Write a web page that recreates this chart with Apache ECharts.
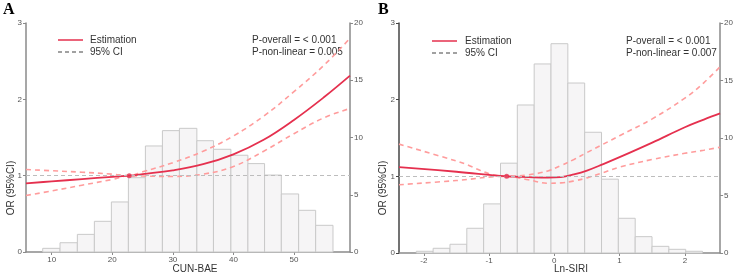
<!DOCTYPE html>
<html>
<head>
<meta charset="utf-8">
<script src="https://cdn.jsdelivr.net/npm/echarts@6/dist/echarts.min.js"></script>
<style>
html,body{margin:0;padding:0;background:#fff;}
#c{width:736px;height:275px;}
</style>
</head>
<body>
<div id="c"></div>
<script>
// ---------- Data: panel A (CUN-BAE) ----------
const edgesA = [8.51, 11.37, 14.23, 17.04, 19.85, 22.66, 25.47, 28.28, 31.09, 33.97, 36.71, 39.59, 42.40, 45.15, 47.92, 50.78, 53.59, 56.45];
const countsA = [0.32, 0.81, 1.54, 2.68, 4.37, 6.49, 9.26, 10.6, 10.8, 9.72, 8.97, 8.45, 7.72, 6.72, 5.07, 3.64, 2.33];
const xA   = [5.75, 10, 15, 20, 22.8, 25, 30, 35, 40, 45, 50, 55, 59.26];
const estA = [0.90, 0.925, 0.955, 0.985, 1.0, 1.02, 1.07, 1.15, 1.28, 1.47, 1.73, 2.03, 2.31];
const upA  = [1.08, 1.065, 1.045, 1.02, 1.0, 1.05, 1.17, 1.32, 1.52, 1.78, 2.10, 2.45, 2.80];
const loA  = [0.74, 0.80, 0.875, 0.95, 1.0, 0.995, 0.99, 1.02, 1.12, 1.32, 1.55, 1.76, 1.88];
const refA = [22.8, 1.0];
const xTicksA = [10, 20, 30, 40, 50];

// ---------- Data: panel B (Ln-SIRI) ----------
const edgesB = [-2.115, -1.857, -1.599, -1.341, -1.083, -0.825, -0.567, -0.309, -0.051, 0.207, 0.465, 0.723, 0.981, 1.239, 1.497, 1.755, 2.013, 2.271];
const countsB = [0.15, 0.41, 0.76, 2.15, 4.27, 7.81, 12.87, 16.44, 18.2, 14.78, 10.5, 6.42, 3.02, 1.42, 0.58, 0.32, 0.15];
const xB   = [-2.38, -1.5, -0.73, -0.4, -0.1, 0.1, 0.3, 0.5, 0.75, 1.0, 1.5, 2.0, 2.29, 2.54];
const estB = [1.12, 1.06, 1.0, 0.99, 0.984, 0.99, 1.025, 1.075, 1.16, 1.25, 1.44, 1.64, 1.74, 1.82];
const upB  = [1.42, 1.20, 1.0, 1.02, 1.07, 1.14, 1.22, 1.31, 1.42, 1.53, 1.75, 2.02, 2.22, 2.43];
const loB  = [0.89, 0.945, 1.0, 0.955, 0.91, 0.915, 0.94, 0.98, 1.05, 1.12, 1.22, 1.30, 1.34, 1.38];
const refB = [-0.73, 1.0];
const xTicksB = [-2, -1, 0, 1, 2];

// ---------- helpers ----------
const zip = (xs, ys) => xs.map((x, i) => [x, ys[i]]);
const bins = (edges, counts) => counts.map((c, i) => [edges[i], edges[i + 1], c]);

const FONT = 'Liberation Sans, Arial, sans-serif';
const RED = '#e5304e';
const CI = '#ff9c9c';

function histRender(params, api) {
  const p0 = api.coord([api.value(0), api.value(2)]);
  const p1 = api.coord([api.value(1), 0]);
  return {
    type: 'rect',
    shape: { x: p0[0], y: p0[1], width: p1[0] - p0[0], height: p1[1] - p0[1] },
    style: { fill: '#f6f5f6', stroke: '#c9c9c9', lineWidth: 1 }
  };
}

function xAxisDef(gi, min, max, ticks) {
  return {
    type: 'value', gridIndex: gi, min: min, max: max,
    axisLine: { show: true, onZero: false, lineStyle: { color: '#8a8a8a', width: 1.5 } },
    axisTick: { show: true, length: 3, customValues: ticks, lineStyle: { color: '#8a8a8a' } },
    axisLabel: { customValues: ticks, fontSize: 8, color: '#555', margin: 4, fontFamily: FONT },
    splitLine: { show: false }
  };
}
function yLeftDef(gi, color) {
  return {
    type: 'value', gridIndex: gi, min: 0, max: 3, interval: 1, position: 'left',
    axisLine: { show: true, onZero: false, lineStyle: { color: color, width: 1.5 } },
    axisTick: { show: true, length: 3, lineStyle: { color: color } },
    axisLabel: { fontSize: 8, color: '#555', margin: 4, fontFamily: FONT },
    splitLine: { show: false }
  };
}
function yRightDef(gi) {
  return {
    type: 'value', gridIndex: gi, min: 0, max: 20, interval: 5, position: 'right',
    axisLine: { show: true, onZero: false, lineStyle: { color: '#8a8a8a', width: 1.5 } },
    axisTick: { show: true, length: 3, lineStyle: { color: '#8a8a8a' } },
    axisLabel: { fontSize: 8, color: '#555', margin: 4, fontFamily: FONT },
    splitLine: { show: false }
  };
}

function lineS(xi, yl, data, style, z) {
  return { type: 'line', xAxisIndex: xi, yAxisIndex: yl, data: data, smooth: 0.4,
    showSymbol: false, lineStyle: style, z: z };
}

function panelSeries(xi, yl, yr, edges, counts, xs, est, up, lo, ref) {
  const estS = lineS(xi, yl, zip(xs, est), { color: RED, width: 1.8 }, 4);
  estS.markLine = { silent: true, symbol: 'none', label: { show: false },
    lineStyle: { color: '#bdbdbd', type: [4, 3], width: 1 }, data: [{ yAxis: 1 }] };
  return [
    { type: 'custom', xAxisIndex: xi, yAxisIndex: yr, renderItem: histRender,
      data: bins(edges, counts), encode: { x: [0, 1], y: 2 }, z: 1, silent: true },
    lineS(xi, yl, zip(xs, up), { color: CI, width: 1.6, type: [5, 4] }, 3),
    lineS(xi, yl, zip(xs, lo), { color: CI, width: 1.6, type: [5, 4] }, 3),
    estS,
    { type: 'scatter', xAxisIndex: xi, yAxisIndex: yl, data: [ref], symbolSize: 5,
      itemStyle: { color: RED }, z: 5 }
  ];
}

function txt(x, y, s, opts) {
  return { type: 'text', x: x, y: y,
    style: Object.assign({ text: s, fontSize: 10, fill: '#333', fontFamily: FONT,
      textVerticalAlign: 'middle' }, opts || {}) };
}

const chart = echarts.init(document.getElementById('c'), null, { renderer: 'canvas' });
chart.setOption({
  animation: false,
  backgroundColor: '#fff',
  grid: [
    { left: 26, top: 23, width: 324, height: 229 },
    { left: 399, top: 23, width: 324, height: 230 }
  ],
  xAxis: [xAxisDef(0, 5.75, 59.26, xTicksA), xAxisDef(1, -2.38, 2.54, xTicksB)],
  yAxis: [yLeftDef(0, '#8a8a8a'), yRightDef(0), yLeftDef(1, '#444'), yRightDef(1)],
  series: [].concat(
    panelSeries(0, 0, 1, edgesA, countsA, xA, estA, upA, loA, refA),
    panelSeries(1, 2, 3, edgesB, countsB, xB, estB, upB, loB, refB)
  ),
  graphic: [
    txt(3, 10, 'A', { fontSize: 16, fontWeight: 'bold', fontFamily: 'Liberation Serif, Times New Roman, serif', fill: '#000' }),
    txt(378, 10, 'B', { fontSize: 16, fontWeight: 'bold', fontFamily: 'Liberation Serif, Times New Roman, serif', fill: '#000' }),
    { type: 'line', shape: { x1: 58, y1: 40, x2: 83, y2: 40 }, style: { stroke: RED, lineWidth: 1.5 } },
    { type: 'line', shape: { x1: 58, y1: 52, x2: 83, y2: 52 }, style: { stroke: '#444', lineWidth: 1.2, lineDash: [4, 3] } },
    txt(90, 40, 'Estimation'),
    txt(90, 52, '95% CI'),
    { type: 'line', shape: { x1: 432, y1: 41, x2: 457, y2: 41 }, style: { stroke: RED, lineWidth: 1.5 } },
    { type: 'line', shape: { x1: 432, y1: 53, x2: 457, y2: 53 }, style: { stroke: '#444', lineWidth: 1.2, lineDash: [4, 3] } },
    txt(465, 41, 'Estimation'),
    txt(465, 53, '95% CI'),
    txt(252, 40, 'P-overall = < 0.001'),
    txt(252, 52, 'P-non-linear = 0.005'),
    txt(626, 41, 'P-overall = < 0.001'),
    txt(626, 53, 'P-non-linear = 0.007'),
    txt(195, 269, 'CUN-BAE', { textAlign: 'center' }),
    txt(571, 269, 'Ln-SIRI', { textAlign: 'center' }),
    Object.assign(txt(11, 188, 'OR (95%CI)', { textAlign: 'center' }), { rotation: Math.PI / 2 }),
    Object.assign(txt(383, 188, 'OR (95%CI)', { textAlign: 'center' }), { rotation: Math.PI / 2 })
  ]
});
</script>
</body>
</html>
